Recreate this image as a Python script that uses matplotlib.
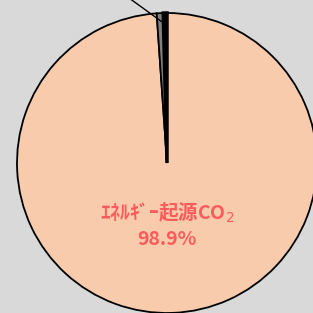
import matplotlib.pyplot as plt

plt.rcParams['font.family'] = ['Noto Sans CJK JP', 'DejaVu Sans']

labels = ['ｴﾈﾙｷﾞｰ起源CO$_2$', '非ｴﾈﾙｷﾞｰ起源CO$_2$', 'その他']
values = [98.9, 0.7, 0.4]
colors = ['#F8CBAD', '#808080', '#000000']

fig = plt.figure(figsize=(3.13, 3.13), dpi=100)
fig.patch.set_facecolor('#D9D9D9')
ax = fig.add_axes([0, 0, 1, 1])
ax.set_facecolor('#D9D9D9')

wedges, _ = ax.pie(values, colors=colors, startangle=90, counterclock=False,
                   wedgeprops=dict(edgecolor='black', linewidth=1.3))
wedges[2].set_linewidth(2.5)

# main label
ax.text(0, -0.33, labels[0], ha='center', va='center', color='#FF5B5B',
        fontsize=14, fontweight='bold')
ax.text(0, -0.51, f'{values[0]}%', ha='center', va='center', color='#FF5B5B',
        fontsize=14, fontweight='bold')

# leader line for the small slice (its label is outside the visible area)
ax.annotate('', xy=(-0.035, 0.942), xytext=(-0.53, 1.3),
            arrowprops=dict(arrowstyle='-', color='black', lw=1.0,
                            shrinkA=0, shrinkB=0))

ax.set_xlim(-167 / 150, 146 / 150)
ax.set_ylim(-150 / 150, 163 / 150)
ax.set_aspect('equal')
ax.axis('off')

fig.savefig('out.png', dpi=100, facecolor=fig.get_facecolor())
